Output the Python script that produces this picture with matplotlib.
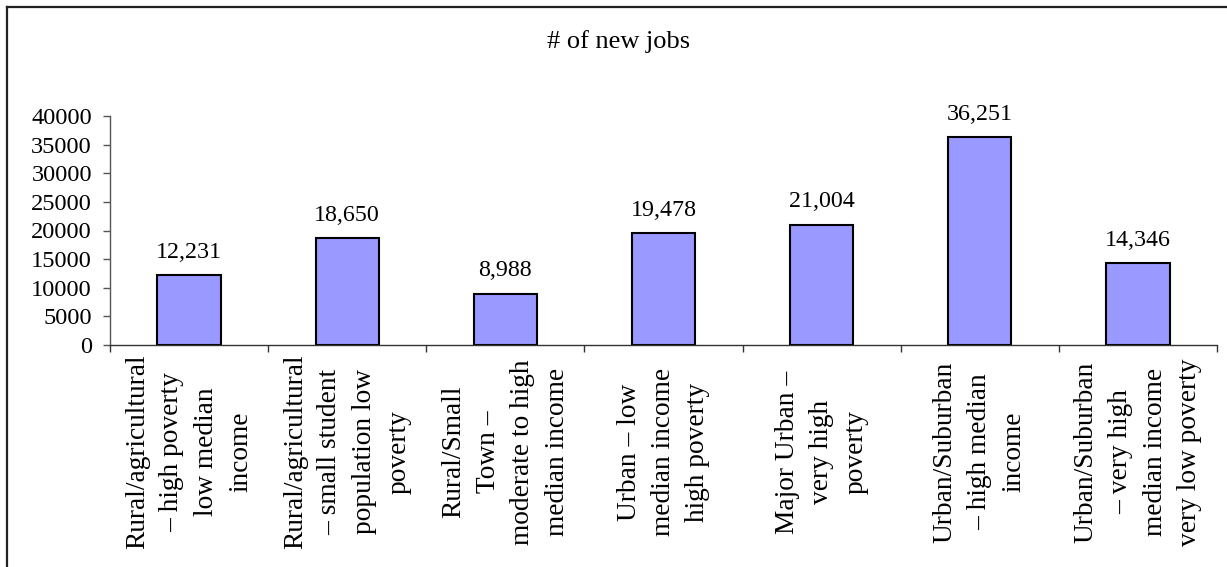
import matplotlib
matplotlib.use("Agg")
import matplotlib.pyplot as plt
import matplotlib.transforms as mtransforms
from matplotlib.lines import Line2D

plt.rcParams['font.family'] = ['Liberation Serif', 'DejaVu Serif']

# new jobs by region type
categories = [
    "Rural/agricultural\n– high poverty\nlow median\nincome",
    "Rural/agricultural\n– small student\npopulation low\npoverty",
    "Rural/Small\nTown –\nmoderate to high\nmedian income",
    "Urban – low\nmedian income\nhigh poverty",
    "Major Urban –\nvery high\npoverty",
    "Urban/Suburban\n– high median\nincome",
    "Urban/Suburban\n– very high\nmedian income\nvery low poverty",
]
new_jobs = [12231, 18650, 8988, 19478, 21004, 36251, 14346]
yticks = [0, 5000, 10000, 15000, 20000, 25000, 30000, 35000, 40000]

W, H = 1227, 567
fig = plt.figure(figsize=(W / 100, H / 100), dpi=100)
ax = fig.add_axes([110 / W, 1 - 345 / H, (1217 - 110) / W, (345 - 116) / H])

x = list(range(len(categories)))
ax.bar(x, new_jobs, width=0.4, color='#9999FF', edgecolor='black', linewidth=1.5)

for xi, v in zip(x, new_jobs):
    ax.annotate(f"{v:,}", (xi, v), xytext=(0, 12.5), textcoords='offset points',
                ha='center', va='baseline', fontsize=17.3)

ax.set_xlim(-0.5, len(categories) - 0.5)
ax.set_ylim(0, 40000)
ax.set_yticks(yticks)
ax.set_yticklabels([str(t) for t in yticks], fontsize=17.6)
ax.tick_params(axis='y', length=5, width=1, pad=8, color='#555555')

# ticks sit between categories, labels placed by hand
ax.set_xticks([i - 0.5 for i in range(len(categories) + 1)])
ax.set_xticklabels([])
ax.tick_params(axis='x', length=5, width=1, direction='out', color='#333333')

trans = mtransforms.blended_transform_factory(ax.transData, fig.transFigure)
for xi, lab in zip(x, categories):
    ax.text(xi, 1 - 452 / H, lab, transform=trans, rotation=90, ha='center',
            va='center', multialignment='center', fontsize=19.7, linespacing=1.5)

for s in ['top', 'right']:
    ax.spines[s].set_visible(False)
ax.spines['left'].set_color('#555555')
ax.spines['bottom'].set_color('#333333')
ax.spines['left'].set_linewidth(1)
ax.spines['bottom'].set_linewidth(1)

fig.text(619 / W, 1 - 42 / H, "# of new jobs", ha='center', va='center', fontsize=19)

# outer chart frame
fig.add_artist(Line2D([7 / W, 7 / W], [0, 1 - 7 / H], transform=fig.transFigure,
                      color='#222222', linewidth=1.6))
fig.add_artist(Line2D([7 / W, 1], [1 - 7 / H, 1 - 7 / H], transform=fig.transFigure,
                      color='#222222', linewidth=1.6))

fig.savefig("out.png", dpi=100, facecolor='white')
